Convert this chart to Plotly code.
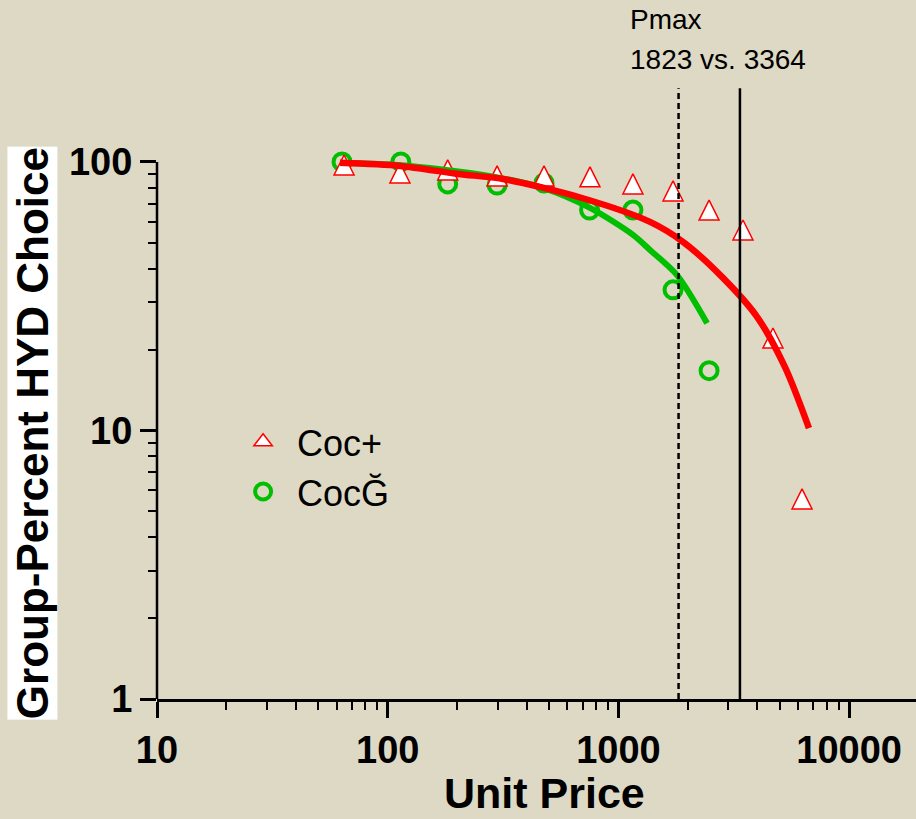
import plotly.graph_objects as go

# Group demand data: unit price vs. percent HYD choice
price_coc_plus = [64.7, 113, 182, 298, 476, 753, 1156, 1725, 2472, 3467, 4677, 6252]
pct_coc_plus = [97.4, 91.0, 93.4, 88.7, 88.7, 88.0, 82.8, 78.0, 66.2, 55.8, 22.1, 5.56]

price_coc_minus = [63.4, 114, 182, 298, 476, 750, 1156, 1725, 2472]
pct_coc_minus = [100, 100, 82.8, 82.0, 83.5, 66.2, 66.2, 33.4, 16.7]

# Fitted demand curves
fit_plus_price = [62.1, 113, 202, 316, 695, 1371, 1905, 2840, 3990, 5275, 6700]
fit_plus_pct = [99.2, 96.6, 90.2, 86.4, 73.4, 59.8, 50.4, 37.0, 26.5, 17.2, 10.2]

fit_minus_price = [62.1, 125, 307, 471, 753, 1157, 1371, 1795, 2423]
fit_minus_pct = [99.2, 96.6, 87.2, 80.0, 67.4, 53.5, 47.0, 37.9, 25.1]

# Pmax for Coc- (dashed) and Coc+ (solid)
pmax_values = [1823, 3364]
pmax_dashes = ["6px,4px", "solid"]
PMAX_LINE_TOP = 188

x_tick_vals = [10, 100, 1000, 10000]
x_tick_text = ["10", "100", "1000", "10000"]
y_tick_vals = [1, 10, 100]
y_tick_text = ["1", "10", "100"]

BG = "#DED9C4"
RED = "#FF0000"
GREEN = "#00BE00"
ARIAL = "Liberation Sans, Arial, sans-serif"

circle_marker = dict(symbol="circle-open", size=17, color=GREEN, line=dict(width=4, color=GREEN))
# upward triangle centred on the point (arrow shape rotated, backed off by half its height)
triangle_marker = dict(symbol="arrow-down", angle=180, size=20, standoff=10, color="white",
                       line=dict(width=1.5, color=RED))

fig = go.Figure()

fig.add_trace(go.Scatter(
    x=price_coc_minus, y=pct_coc_minus, mode="markers", name="CocĞ",
    marker=circle_marker, showlegend=False,
))
fig.add_trace(go.Scatter(
    x=price_coc_plus, y=pct_coc_plus, mode="markers", name="Coc+",
    marker=triangle_marker, showlegend=False,
))
fig.add_trace(go.Scatter(
    x=fit_minus_price, y=fit_minus_pct, mode="lines", showlegend=False,
    line=dict(color=GREEN, width=6, shape="spline", smoothing=0.8),
))
fig.add_trace(go.Scatter(
    x=fit_plus_price, y=fit_plus_pct, mode="lines", showlegend=False,
    line=dict(color=RED, width=6.5, shape="spline", smoothing=0.8),
))

for pv, dash in zip(pmax_values, pmax_dashes):
    fig.add_trace(go.Scatter(
        x=[pv, pv], y=[1, PMAX_LINE_TOP], mode="lines", showlegend=False,
        line=dict(color="black", width=2.5, dash=dash), cliponaxis=False,
    ))

# legend keys (no data of their own)
fig.add_trace(go.Scatter(
    x=[None], y=[None], mode="markers", name="Coc+", legendrank=1,
    marker=dict(symbol="triangle-up", size=18, color="white", line=dict(width=1.5, color=RED)),
))
fig.add_trace(go.Scatter(
    x=[None], y=[None], mode="markers", name="CocĞ", legendrank=2,
    marker=circle_marker,
))

minor_x = [m * d for d in (10, 100, 1000) for m in range(2, 10)]
minor_y = [m * d for d in (1, 10) for m in range(2, 10)]

fig.update_xaxes(
    type="log", range=[1, 4.29],
    tickvals=x_tick_vals, ticktext=x_tick_text,
    ticks="outside", ticklen=16, tickwidth=2.5, tickcolor="black",
    minor=dict(tickvals=minor_x, ticks="outside", ticklen=8, tickwidth=2, tickcolor="black"),
    showline=True, linecolor="black", linewidth=2.5,
    showgrid=False, zeroline=False,
    tickfont=dict(family=ARIAL, size=38, color="black", weight=700),
)
fig.update_yaxes(
    type="log", range=[0, 2.32],
    tickvals=y_tick_vals, ticktext=y_tick_text,
    ticks="outside", ticklen=16, tickwidth=2.5, tickcolor="black",
    minor=dict(tickvals=minor_y, ticks="outside", ticklen=8, tickwidth=2, tickcolor="black"),
    showline=False, showgrid=False, zeroline=False,
    tickfont=dict(family=ARIAL, size=38, color="black", weight=700),
)

fig.update_layout(
    width=916, height=819,
    margin=dict(l=157, r=0, t=76, b=120),
    paper_bgcolor=BG, plot_bgcolor=BG,
    showlegend=True,
    legend=dict(
        x=0.095, y=0.461, xanchor="left", yanchor="top",
        bgcolor="rgba(0,0,0,0)", itemwidth=58,
        font=dict(family=ARIAL, size=36, color="black"),
    ),
    shapes=[dict(type="line", xref="paper", yref="y", x0=0, x1=0, y0=1, y1=100,
                 line=dict(color="black", width=2.5))],
    annotations=[
        dict(text="Group-Percent HYD Choice", textangle=-90, xref="paper", yref="paper",
             x=-0.164, y=0.426, xanchor="center", yanchor="middle", showarrow=False,
             bgcolor="white", borderpad=0,
             font=dict(family=ARIAL, size=44, color="black", weight=700)),
        dict(text="Unit Price", xref="paper", yref="paper",
             x=0.511, y=-0.191, xanchor="center", yanchor="bottom", showarrow=False,
             borderpad=0,
             font=dict(family=ARIAL, size=43, color="black", weight=700)),
        dict(text="Pmax", xref="paper", yref="paper",
             x=0.62, y=1.118, xanchor="left", yanchor="top", align="left", showarrow=False,
             font=dict(family=ARIAL, size=28, color="black")),
        dict(text="1823 vs. 3364", xref="paper", yref="paper",
             x=0.62, y=1.054, xanchor="left", yanchor="top", align="left", showarrow=False,
             font=dict(family=ARIAL, size=28, color="black")),
    ],
)

fig.write_html("out.html")
